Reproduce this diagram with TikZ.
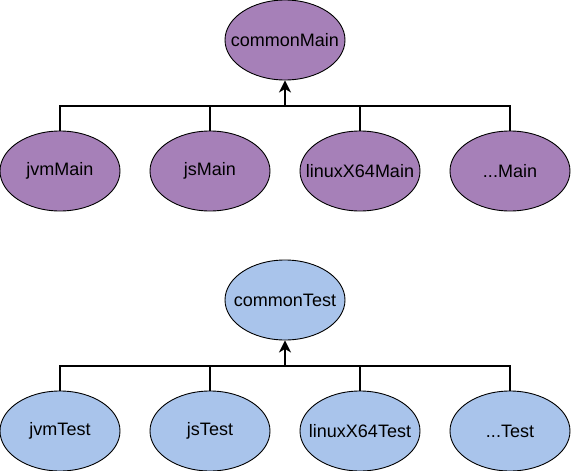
\documentclass[tikz,border=0pt]{standalone}
\usepackage{fontspec}
\setmainfont{Liberation Sans}
\usetikzlibrary{shapes.geometric,arrows.meta}
\definecolor{purplefill}{HTML}{A680B8}
\definecolor{bluefill}{HTML}{A9C4EB}
\tikzset{
  ell/.style={ellipse, draw=black, line width=0.9pt, minimum width=120pt, minimum height=80pt, inner sep=0pt,
    font=\fontsize{18}{21}\selectfont},
  pnode/.style={ell, fill=purplefill},
  bnode/.style={ell, fill=bluefill},
  conn/.style={draw=black, line width=1.5pt},
  trunk/.style={draw=black, line width=2.6pt, -{Stealth[length=12pt,width=12pt,inset=3.5pt]}},
}
\newcommand{\lbl}[1]{\makebox[0pt]{#1}}
\begin{document}
\begin{tikzpicture}[x=1pt,y=-1pt]
\useasboundingbox (0,0) rectangle (571,471);
% top group
\node[pnode] (cm) at (285,40) {\lbl{commonMain}};
\node[pnode] (jvmm) at (60,171) {\lbl{jvmMain}};
\node[pnode] (jsm) at (210,171) {\lbl{jsMain}};
\node[pnode] (lxm) at (360,171) {\lbl{linuxX64Main}};
\node[pnode] (dotm) at (510,171) {\lbl{...Main}};
\coordinate (jm) at (285,106);
\draw[conn] (jvmm.north) |- (jm);
\draw[conn] (jsm.north) |- (jm);
\draw[conn] (lxm.north) |- (jm);
\draw[conn] (dotm.north) |- (jm);
\draw[trunk] (jm) -- (cm.south);
% bottom group
\node[bnode] (ct) at (285,300) {\lbl{commonTest}};
\node[bnode] (jvmt) at (60,431) {\lbl{jvmTest}};
\node[bnode] (jst) at (210,431) {\lbl{jsTest}};
\node[bnode] (lxt) at (360,431) {\lbl{linuxX64Test}};
\node[bnode] (dott) at (510,431) {\lbl{...Test}};
\coordinate (jt) at (285,366);
\draw[conn] (jvmt.north) |- (jt);
\draw[conn] (jst.north) |- (jt);
\draw[conn] (lxt.north) |- (jt);
\draw[conn] (dott.north) |- (jt);
\draw[trunk] (jt) -- (ct.south);
\end{tikzpicture}
\end{document}
